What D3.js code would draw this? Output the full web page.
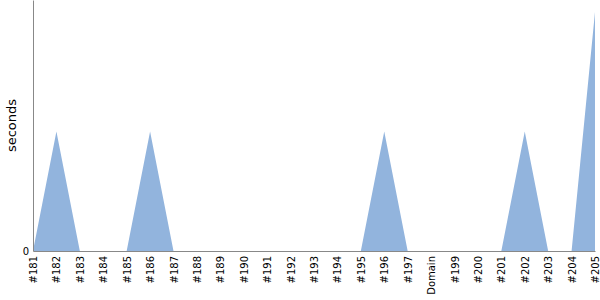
<!DOCTYPE html>
<html>
<head>
<meta charset="utf-8">
<script src="https://cdn.jsdelivr.net/npm/d3@7"></script>
<style>
body { margin: 0; background: #fff; }
text { font-family: "DejaVu Sans", sans-serif; }
</style>
</head>
<body>
<svg id="chart"></svg>
<script>
// data
let builds = ['#181','#182','#183','#184','#185','#186','#187','#188','#189','#190','#191','#192','#193','#194','#195','#196','#197','Domain','#199','#200','#201','#202','#203','#204','#205']
let seconds = [0,1,0,0,0,1,0,0,0,0,0,0,0,0,0,1,0,0,0,0,0,1,0,0,2]

let W = 600, H = 300
let margin = {left: 33, right: 5, top: 0, bottom: 49}

let svg = d3.select('#chart').attr('width', W).attr('height', H)

let x = d3.scalePoint()
	.domain(builds)
	.range([margin.left, W - margin.right])

let y = d3.scaleLinear()
	.domain([0, 2.1])
	.range([H - margin.bottom, margin.top])

let area = d3.area()
	.x((d, i) => x(builds[i]))
	.y0(y(0))
	.y1(d => y(d))

svg.append('path')
	.datum(seconds)
	.attr('d', area)
	.attr('fill', '#92b4dd')

// x axis
let xAxis = svg.append('g')
	.attr('transform', `translate(0,${y(0)})`)
	.call(d3.axisBottom(x).tickSize(0).tickPadding(0))
xAxis.select('.domain').attr('stroke', '#888')
xAxis.selectAll('text')
	.attr('font-size', '10px')
	.attr('fill', '#000')
	.attr('text-anchor', 'end')
	.attr('dy', '0.35em')
	.attr('transform', 'translate(0,5) rotate(-90)')
	.attr('x', 0)
	.attr('y', 0)

// y axis
let yAxis = svg.append('g')
	.attr('transform', `translate(${margin.left},0)`)
	.call(d3.axisLeft(y).tickValues([0]).tickFormat(d3.format('d')).tickSize(0).tickPadding(4))
yAxis.select('.domain').attr('stroke', '#888')
yAxis.selectAll('text').attr('font-size', '10px').attr('fill', '#000')

svg.append('text')
	.attr('transform', `translate(16,${(H - margin.bottom) / 2}) rotate(-90)`)
	.attr('text-anchor', 'middle')
	.attr('font-size', '13px')
	.text('seconds')
</script>
</body>
</html>
